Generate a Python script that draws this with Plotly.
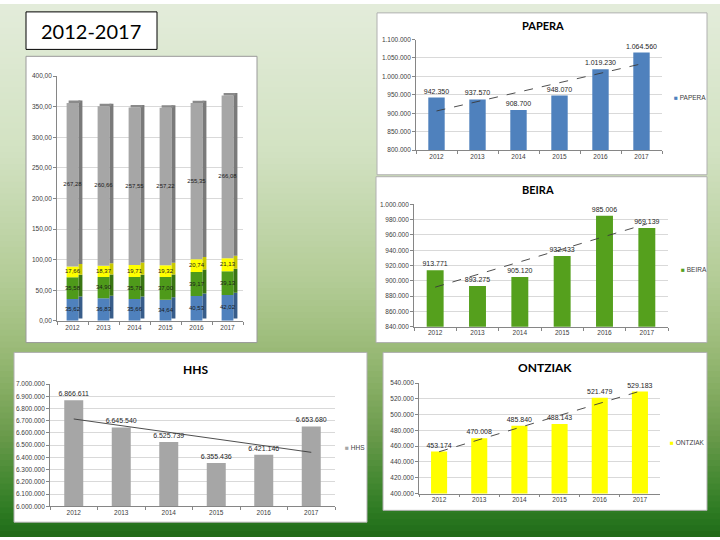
import numpy as np
import plotly.graph_objects as go

# ---------------- data ----------------
years = ["2012", "2013", "2014", "2015", "2016", "2017"]

blue_vals = [35.62, 36.83, 35.66, 34.64, 40.53, 42.02]
green_vals = [35.58, 34.90, 35.78, 37.00, 39.17, 39.13]
yellow_vals = [17.66, 18.37, 19.71, 19.32, 20.74, 21.13]
gray_vals = [267.28, 260.66, 257.55, 257.22, 255.35, 266.08]

papera = [942350, 937570, 908700, 948070, 1019230, 1064560]
beira = [913771, 893275, 905120, 932433, 985006, 969139]
hhs = [6866611, 6645540, 6525739, 6355436, 6421146, 6653680]
ontziak = [453174, 470008, 485840, 488143, 521479, 529183]

# ---------------- helpers ----------------
W, H = 720, 540
def X(px): return px / W
def Y(py): return 1 - py / H

TICKFONT = dict(family="Liberation Sans", size=6.5, color="#404040")
LABFONT = dict(family="Liberation Sans", size=7, color="#262626")

def dotfmt(v):
    return f"{v:,}".replace(",", ".")

def commafmt(v):
    return f"{v:.2f}".replace(".", ",")

fig = go.Figure()
shapes = []

# background gradient
stops = [(0, (227, 236, 218)), (150, (210, 226, 194)), (280, (179, 204, 150)),
         (340, (158, 189, 124)), (390, (134, 173, 99)), (440, (104, 153, 74)),
         (480, (71, 138, 51)), (515, (45, 122, 34)), (540, (31, 106, 24))]
sp = np.array([s[0] for s in stops])
sc = np.array([s[1] for s in stops], dtype=float)
step = 6
for y0 in range(0, H, step):
    ym = y0 + step / 2
    c = [int(round(np.interp(ym, sp, sc[:, k]))) for k in range(3)]
    shapes.append(dict(type="rect", xref="paper", yref="paper", x0=0, x1=1,
                       y0=Y(min(y0 + step + 1, H)), y1=Y(y0), layer="below",
                       line=dict(width=0), fillcolor=f"rgb({c[0]},{c[1]},{c[2]})"))

def panel(x0, y0, x1, y1, line="#b0b0b0", lw=1):
    shapes.append(dict(type="rect", xref="paper", yref="paper", x0=X(x0), x1=X(x1),
                       y0=Y(y1), y1=Y(y0), layer="below", fillcolor="white",
                       line=dict(color=line, width=lw)))

panel(26, 8, 157, 46, line="black", lw=1)
panel(26, 53, 257, 343, line="#9a9a9a")
panel(377, 9, 707, 173)
panel(376, 175, 707, 343)
panel(14, 353, 367, 525)
panel(383, 353, 707, 513)

def ann(text, px, py, size, family="Lato", xanchor="center", color="black"):
    return dict(text=text, x=X(px), y=Y(py), xref="paper", yref="paper", showarrow=False,
                xanchor=xanchor, yanchor="middle",
                font=dict(family=family, size=size, color=color))

annotations = [
    ann("2012-2017", 91, 27, 20),
    ann("<b>PAPERA</b>", 543, 22, 11),
    ann("<b>BEIRA</b>", 538, 188, 11),
    ann("<b>HHS</b>", 195, 370, 12),
    ann("<b>ONTZIAK</b>", 545, 368, 12),
]

def legend_ann(name, color, px, py):
    annotations.append(ann(f"<span style='color:{color}'>■</span> {name}", px, py, 6.5,
                           family="Liberation Sans", xanchor="left", color="#404040"))

# ---------------- stacked 3D-like chart ----------------
depth = 4.0
segments = [(blue_vals, "#4f81bd", "#385d8a"), (green_vals, "#4e9a1a", "#3a7513"),
            (yellow_vals, "#ffff00", "#c8c800"), (gray_vals, "#a6a6a6", "#7a7a7a")]
base = np.zeros(len(years))
for vals, front, side in segments:
    v = np.array(vals)
    fig.add_trace(go.Bar(x=years, y=v, base=base + depth, width=0.13, offset=0.19,
                         marker=dict(color=side, line=dict(width=0)), xaxis="x", yaxis="y",
                         showlegend=False, hoverinfo="skip"))
    fig.add_trace(go.Bar(x=years, y=v, base=base, width=0.38, offset=-0.19,
                         marker=dict(color=front, line=dict(width=0)), xaxis="x", yaxis="y",
                         showlegend=False, hoverinfo="skip"))
    fig.add_trace(go.Scatter(x=years, y=base + v / 2, mode="text",
                             text=[commafmt(a) for a in vals],
                             textfont=dict(family="Liberation Sans", size=6, color="#1a1a1a"),
                             xaxis="x", yaxis="y", showlegend=False, hoverinfo="skip",
                             cliponaxis=False))
    base = base + v
# top caps
fig.add_trace(go.Bar(x=years, y=[depth] * len(years), base=base, width=0.38, offset=-0.125,
                     marker=dict(color="#8a8a8a", line=dict(width=0)), xaxis="x", yaxis="y",
                     showlegend=False, hoverinfo="skip"))

# ---------------- single-series charts ----------------
def single(vals, name, color, xa, ya, trend_dash="dash"):
    fig.add_trace(go.Bar(x=years, y=vals, width=0.4, name=name,
                         marker=dict(color=color, line=dict(width=0)),
                         text=[dotfmt(v) for v in vals], textposition="outside",
                         textfont=LABFONT, constraintext="none", cliponaxis=False,
                         xaxis=xa, yaxis=ya, showlegend=False, hoverinfo="skip"))
    idx = np.arange(len(vals))
    coef = np.polyfit(idx, np.array(vals, dtype=float), 1)
    fig.add_trace(go.Scatter(x=years, y=np.polyval(coef, idx), mode="lines",
                             line=dict(color="#3a3a3a", width=0.9, dash=trend_dash),
                             xaxis=xa, yaxis=ya, showlegend=False, hoverinfo="skip"))

single(papera, "PAPERA", "#4f81bd", "x2", "y2")
single(beira, "BEIRA", "#55a01d", "x3", "y3")
single(hhs, "HHS", "#a6a6a6", "x4", "y4", trend_dash="solid")
single(ontziak, "ONTZIAK", "#ffff00", "x5", "y5")

legend_ann("PAPERA", "#4f81bd", 672, 95)
legend_ann("BEIRA", "#55a01d", 679, 269)
legend_ann("HHS", "#a6a6a6", 343, 449)
legend_ann("ONTZIAK", "#ffff00", 668, 444)

def xaxis(anchor, x0, x1):
    return dict(domain=[X(x0), X(x1)], anchor=anchor, type="category",
                categoryorder="array", categoryarray=years, showgrid=False,
                showline=True, linecolor="#868686", linewidth=0.8,
                ticks="outside", ticklen=3, tickcolor="#868686", tickson="boundaries",
                tickfont=TICKFONT, zeroline=False, fixedrange=True)

def yaxis(anchor, y_top, y_bot, rng, dtick, fmt):
    return dict(domain=[Y(y_bot), Y(y_top)], anchor=anchor, range=rng, dtick=dtick,
                tickformat=fmt, showgrid=True, gridcolor="#d9d9d9", gridwidth=0.8,
                showline=True, linecolor="#868686", linewidth=0.8, ticks="outside",
                ticklen=3, tickcolor="#868686", tickfont=TICKFONT, zeroline=False,
                fixedrange=True)

fig.update_layout(
    width=W, height=H, margin=dict(l=0, r=0, t=0, b=0),
    paper_bgcolor="white", plot_bgcolor="rgba(0,0,0,0)",
    barmode="overlay", separators=",.", hovermode=False,
    shapes=shapes, annotations=annotations, showlegend=False,
    xaxis=xaxis("y", 57, 243),
    yaxis=yaxis("x", 73, 321, [0, 400], 50, ",.2f"),
    xaxis2=xaxis("y2", 416, 662),
    yaxis2=yaxis("x2", 36, 148, [800000, 1100000], 50000, ",d"),
    xaxis3=xaxis("y3", 414, 668),
    yaxis3=yaxis("x3", 203, 327, [840000, 1000000], 20000, ",d"),
    xaxis4=xaxis("y4", 50, 335),
    yaxis4=yaxis("x4", 385, 509, [6000000, 7000000], 100000, ",d"),
    xaxis5=xaxis("y5", 419, 660),
    yaxis5=yaxis("x5", 384, 496, [400000, 540000], 20000, ",d"),
)

fig.write_html("out.html", config={"displayModeBar": False},
               post_script="document.body.style.margin='0';document.body.style.overflow='hidden';")
